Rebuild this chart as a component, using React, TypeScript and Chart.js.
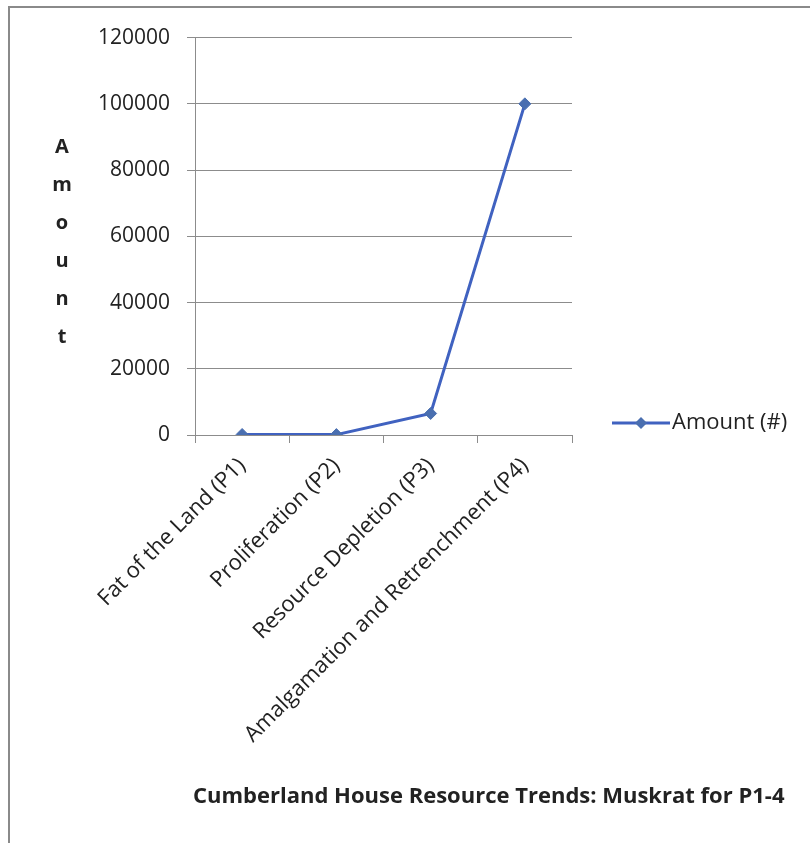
import React, { useEffect, useRef } from "react";
import { Chart, registerables } from "chart.js";

Chart.register(...registerables);

const categories = [
  "Fat of the Land (P1)",
  "Proliferation (P2)",
  "Resource Depletion (P3)",
  "Amalgamation and Retrenchment (P4)",
];
const amounts = [150, 120, 6500, 100000];
const seriesLabel = "Amount (#)";
const yAxisTitle = "Amount";
const xAxisTitle = "Cumberland House Resource Trends: Muskrat for P1-4";
const yMin = 0;
const yMax = 120000;
const yStep = 20000;

const FONT = "'Open Sans', 'Noto Sans', sans-serif";
const LINE_COLOR = "#4062c0";
const MARKER_COLOR = "#4a6fb0";
const GRID_COLOR = "#8c8c8c";
const TEXT_COLOR = "#222222";

const decorPlugin = {
  id: "decor",
  afterDraw(chart: any) {
    const { ctx, chartArea } = chart;
    ctx.save();
    ctx.fillStyle = TEXT_COLOR;
    // Vertical stacked y-axis title
    ctx.font = `bold 20px ${FONT}`;
    ctx.textAlign = "center";
    ctx.textBaseline = "middle";
    const letters = yAxisTitle.split("");
    const spacing = 38;
    const midY = (chartArea.top + chartArea.bottom) / 2 + 6;
    const startY = midY - ((letters.length - 1) * spacing) / 2;
    letters.forEach((ch, i) => {
      ctx.fillText(ch, 52, startY + i * spacing);
    });
    // X-axis title
    ctx.font = `bold 22px ${FONT}`;
    ctx.textAlign = "left";
    ctx.fillText(xAxisTitle, chartArea.left - 2, 789);
    // Legend
    const ly = 415;
    const lx0 = 602;
    const lx1 = 660;
    ctx.strokeStyle = LINE_COLOR;
    ctx.lineWidth = 3;
    ctx.beginPath();
    ctx.moveTo(lx0, ly);
    ctx.lineTo(lx1, ly);
    ctx.stroke();
    const cx = (lx0 + lx1) / 2;
    ctx.fillStyle = MARKER_COLOR;
    ctx.beginPath();
    ctx.moveTo(cx, ly - 6);
    ctx.lineTo(cx + 6, ly);
    ctx.lineTo(cx, ly + 6);
    ctx.lineTo(cx - 6, ly);
    ctx.closePath();
    ctx.fill();
    ctx.fillStyle = TEXT_COLOR;
    ctx.font = `22px ${FONT}`;
    ctx.textAlign = "left";
    ctx.fillText(seriesLabel, lx1 + 2, ly);
    ctx.restore();
  },
};

export default function App() {
  const ref = useRef<HTMLCanvasElement>(null);
  useEffect(() => {
    const chart = new Chart(ref.current as HTMLCanvasElement, {
      type: "line",
      data: {
        labels: categories,
        datasets: [
          {
            label: seriesLabel,
            data: amounts,
            borderColor: LINE_COLOR,
            backgroundColor: MARKER_COLOR,
            borderWidth: 3,
            tension: 0,
            pointStyle: "rectRot",
            pointRadius: 6,
            pointBackgroundColor: MARKER_COLOR,
            pointBorderColor: MARKER_COLOR,
            pointBorderWidth: 1,
          },
        ],
      },
      options: {
        responsive: false,
        animation: false,
        layout: { padding: { top: 27, right: 238, bottom: 0, left: 0 } },
        plugins: {
          legend: { display: false },
          tooltip: { enabled: false },
        },
        scales: {
          x: {
            offset: true,
            afterFit: (s: any) => {
              s.height = 408;
            },
            grid: {
              offset: true,
              drawOnChartArea: false,
              color: GRID_COLOR,
              tickLength: 8,
            },
            border: { color: GRID_COLOR, width: 1 },
            ticks: {
              autoSkip: false,
              minRotation: 45,
              maxRotation: 45,
              padding: 10,
              color: TEXT_COLOR,
              font: { family: FONT, size: 22 },
            },
          },
          y: {
            min: yMin,
            max: yMax,
            afterFit: (s: any) => {
              s.width = 185;
            },
            grid: { color: GRID_COLOR, tickLength: 8 },
            border: { color: GRID_COLOR, width: 1 },
            ticks: {
              stepSize: yStep,
              padding: 17,
              color: TEXT_COLOR,
              font: { family: FONT, size: 21 },
              callback: (v: any) => String(v),
            },
          },
        },
      },
      plugins: [decorPlugin],
    });
    return () => chart.destroy();
  }, []);
  return (
    <div
      style={{
        position: "absolute",
        left: 8,
        top: 6,
        width: 800,
        height: 835,
        borderTop: "2px solid #8a8a8a",
        borderLeft: "2px solid #8a8a8a",
        background: "#ffffff",
      }}
    >
      <canvas ref={ref} width={800} height={835} style={{ display: "block" }} />
    </div>
  );
}
